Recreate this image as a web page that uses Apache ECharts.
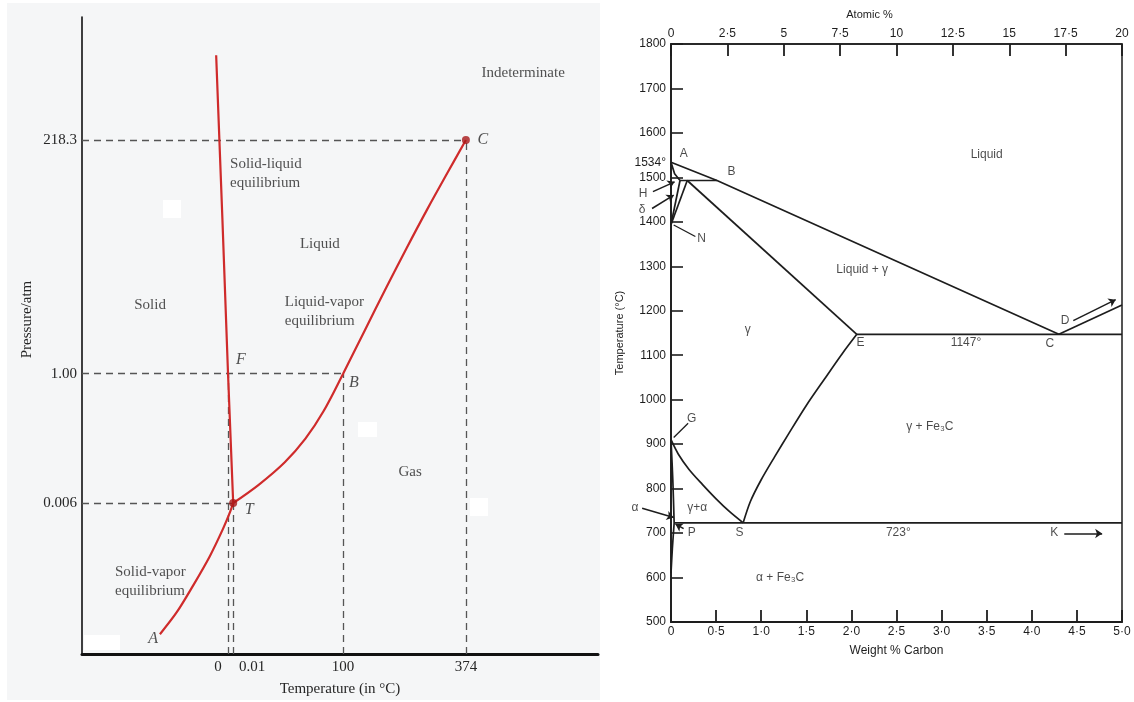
<!DOCTYPE html>
<html><head><meta charset="utf-8">
<script src="https://cdn.jsdelivr.net/npm/echarts@6/dist/echarts.min.js"></script>
<style>
html,body{margin:0;padding:0;background:#fff}
#bgL{position:absolute;left:7px;top:3px;width:593px;height:697px;background:#f5f6f7}
.wb{position:absolute;background:#fff}
#c{position:absolute;left:0;top:0;width:1134px;height:702px}
</style>
</head><body>
<div id="bgL"></div>
<div class="wb" style="left:163px;top:200px;width:18px;height:18px"></div>
<div class="wb" style="left:84px;top:635px;width:36px;height:15px"></div>
<div class="wb" style="left:358px;top:422px;width:19px;height:15px"></div>
<div class="wb" style="left:470px;top:498px;width:18px;height:18px"></div>
<div id="c"></div>
<script>
// ================= LEFT: water phase diagram (schematic, non-linear axes, units 0-100) =================
const waterXTickPos = [28.3, 29.3, 50.6, 74.4];
const waterXTickLabels = ['0', '0.01', '100', '374'];
const waterYTickPos = [23.7, 44.0, 80.7];
const waterYTickLabels = ['0.006', '1.00', '218.3'];

const fusionCurve = [[26.0, 94.0], [27.2, 68.5], [28.3, 44.0], [29.3, 23.7]];
const vaporCurve = [[29.3, 23.7], [34.3, 26.6], [39.3, 30.1], [43.3, 33.8], [46.8, 38.1], [50.6, 44.0],
                    [54.8, 50.8], [58.9, 57.4], [62.9, 63.7], [66.9, 69.8], [70.8, 75.5], [74.4, 80.7]];
const sublimationCurve = [[15.1, 3.1], [18.4, 6.6], [21.5, 10.7], [24.8, 15.4],
                          [27.3, 19.6], [28.7, 22.3], [29.3, 23.7]];
const pointF = [28.3, 44.0];
const pointT = [29.3, 23.7];
const pointB = [50.6, 44.0];
const pointC = [74.4, 80.7];

const waterRegionNames = ['Indeterminate', 'Liquid', 'Solid', 'Gas'];
const waterRegionAt = [[85.5, 91.2], [46.1, 64.3], [13.2, 54.7], [63.6, 28.5]];
const waterBlockNames = ['Solid-liquid\nequilibrium', 'Liquid-vapor\nequilibrium', 'Solid-vapor\nequilibrium'];
const waterBlockAt = [[28.7, 75.4], [39.3, 53.8], [6.4, 11.3]];
const waterLetterNames = ['F', 'B', 'C', 'T', 'A'];
const waterLetterAt = [[30.8, 46.2], [52.7, 42.6], [77.7, 80.7], [32.4, 22.6], [13.8, 2.4]];

// ================= RIGHT: Fe–C diagram (weight % C, °C) =================
const carbonTickLabels = ['0', '0·5', '1·0', '1·5', '2·0', '2·5', '3·0', '3·5', '4·0', '4·5', '5·0'];
const atomicTickLabels = ['0', '2·5', '5', '7·5', '10', '12·5', '15', '17·5', '20'];
const tempLabelValues = [500, 600, 700, 800, 900, 1000, 1100, 1200, 1300, 1400, 1500, 1600, 1700, 1800, 1534];
const specialTempLabel = { value: 1534, text: '1534°' };

const feLiquidus = [[0, 1534], [0.51, 1493], [4.3, 1147]];
const feDeltaSolidus = [[0, 1534], [0.04, 1508], [0.1, 1493]];
const fePeritectic = [[0.1, 1493], [0.51, 1493]];
const feDeltaSolvus = [[0.1, 1493], [0, 1394]];
const feGammaDelta = [[0.18, 1493], [0, 1394]];
const feSolidus = [[0.18, 1493], [2.06, 1147]];
const feEutectic = [[2.06, 1147], [5.0, 1147]];
const feCementiteLiquidus = [[4.3, 1147], [5.0, 1213]];
const feAcm = [[2.06, 1147], [1.9, 1104], [1.7, 1046], [1.5, 987], [1.3, 922], [1.15, 872],
               [1.0, 820], [0.88, 771], [0.8, 723]];
const feA3 = [[0, 910], [0.08, 878], [0.2, 843], [0.35, 809], [0.5, 777], [0.65, 748], [0.8, 723]];
const feEutectoid = [[0.035, 723], [5.0, 723]];
const feAlphaSolvusHigh = [[0, 910], [0.02, 820], [0.035, 723]];
const feAlphaSolvusLow = [[0.035, 723], [0.015, 665], [0, 610]];

const feArrows = [
  [[-0.20, 1468], [0.04, 1490]],  // H
  [[-0.21, 1430], [0.03, 1460]],  // δ
  [[-0.32, 756], [0.03, 735]],    // α
  [[0.14, 710], [0.05, 720]],     // P
  [[4.36, 699], [4.78, 699]],     // K
  [[4.46, 1178], [4.93, 1225]]    // D
];
const feLeaders = [
  [[0.03, 1393], [0.27, 1367]],   // N
  [[0.03, 915], [0.19, 947]]      // G
];
const feLabelNames = ['Liquid', 'Liquid + γ', 'γ', 'γ + Fe₃C', 'γ+α', 'α + Fe₃C', 'A', 'B', 'E', 'C', 'D',
                      '1147°', '723°', 'S', 'P', 'K', 'G', 'N', 'H', 'δ', 'α'];
const feLabelAt = [[3.5, 1550], [2.12, 1292], [0.85, 1157], [2.87, 939], [0.29, 756], [1.21, 599],
                   [0.14, 1553], [0.67, 1513], [2.1, 1128], [4.2, 1125], [4.37, 1177],
                   [3.27, 1128], [2.52, 700], [0.76, 700], [0.23, 700], [4.25, 700], [0.23, 958],
                   [0.34, 1363], [-0.31, 1464], [-0.32, 1427], [-0.4, 758]];

// ================= chart =================
const SERIF = '"Liberation Serif", "DejaVu Serif", serif';
const SANS = '"Liberation Sans", Arial, sans-serif';
const RED = '#cf2b2b';
const INK = '#1d1d1d';
const TXT = '#262626';

const guideSegs = [];
[pointC, pointB, pointT].forEach(p => guideSegs.push({ coords: [[0, p[1]], p] }));
[pointF, pointT, pointB, pointC].forEach(p => guideSegs.push({ coords: [[p[0], 0], p] }));

function labelData(names, at) { return names.map((n, i) => ({ name: n, value: at[i] })); }
function textSeries(xi, yi, names, at, lab) {
  return {
    type: 'scatter', xAxisIndex: xi, yAxisIndex: yi, clip: false, symbol: 'circle', symbolSize: 1,
    itemStyle: { color: 'rgba(0,0,0,0)' }, silent: true, z: 5,
    label: Object.assign({ show: true, position: 'inside', formatter: '{b}' }, lab),
    data: labelData(names, at)
  };
}
function feLine(data, smooth) {
  return { type: 'line', xAxisIndex: 1, yAxisIndex: 1, data: data, showSymbol: false, clip: false,
           smooth: smooth || false, lineStyle: { color: INK, width: 1.7 }, silent: true, z: 3 };
}
function redLine(data, smooth) {
  return { type: 'line', xAxisIndex: 0, yAxisIndex: 0, data: data, showSymbol: false, clip: false,
           smooth: smooth || false, lineStyle: { color: RED, width: 2.2 }, silent: true, z: 4 };
}

const chart = echarts.init(document.getElementById('c'), null, { renderer: 'canvas' });
chart.setOption({
  animation: false,
  backgroundColor: 'transparent',
  grid: [
    { left: 82, top: 17, width: 516, height: 638, show: false },
    { left: 671, top: 44, width: 451, height: 578, show: true, borderColor: INK, borderWidth: 1.5, backgroundColor: '#fff' }
  ],
  xAxis: [
    { gridIndex: 0, type: 'value', min: 0, max: 100,
      axisLine: { show: true, onZero: false, lineStyle: { color: '#111', width: 3 } },
      axisTick: { show: false }, splitLine: { show: false },
      axisLabel: { customValues: waterXTickPos, margin: 6, fontFamily: SERIF, fontSize: 15, color: TXT,
        formatter: v => {
          const i = waterXTickPos.indexOf(v); const t = waterXTickLabels[i];
          if (i === 0) return '{l|' + t + '}';
          if (i === 1) return '{r|' + t + '}';
          return t;
        },
        rich: { l: { padding: [0, 20, 0, 0], fontFamily: SERIF, fontSize: 15, color: TXT },
                r: { padding: [0, 0, 0, 38], fontFamily: SERIF, fontSize: 15, color: TXT } } },
      name: 'Temperature (in °C)', nameLocation: 'middle', nameGap: 28,
      nameTextStyle: { fontFamily: SERIF, fontSize: 15, color: TXT } },
    { gridIndex: 1, type: 'value', min: 0, max: 5, interval: 0.5, position: 'bottom',
      axisLine: { show: true, onZero: false, lineStyle: { color: INK, width: 2 } },
      axisTick: { show: true, inside: true, length: 12, lineStyle: { color: INK, width: 1.8 } },
      splitLine: { show: false },
      axisLabel: { margin: 4, fontFamily: SANS, fontSize: 12, color: INK,
        formatter: v => carbonTickLabels[Math.round(v / 0.5)] },
      name: 'Weight % Carbon', nameLocation: 'middle', nameGap: 23,
      nameTextStyle: { fontFamily: SANS, fontSize: 12, color: INK } },
    { gridIndex: 1, type: 'value', min: 0, max: 20, interval: 2.5, position: 'top',
      axisLine: { show: true, onZero: false, lineStyle: { color: INK, width: 1.5 } },
      axisTick: { show: true, inside: true, length: 12, lineStyle: { color: INK, width: 1.8 } },
      splitLine: { show: false },
      axisLabel: { margin: 4, fontFamily: SANS, fontSize: 12, color: INK,
        formatter: v => atomicTickLabels[Math.round(v / 2.5)] },
      name: 'Atomic %', nameLocation: 'middle', nameGap: 24,
      nameTextStyle: { fontFamily: SANS, fontSize: 11, color: INK, padding: [0, 54, 0, 0] } }
  ],
  yAxis: [
    { gridIndex: 0, type: 'value', min: 0, max: 100,
      axisLine: { show: true, onZero: false, lineStyle: { color: '#111', width: 1.6 } },
      axisTick: { show: false }, splitLine: { show: false },
      axisLabel: { customValues: waterYTickPos, margin: 5, fontFamily: SERIF, fontSize: 15, color: TXT,
        formatter: v => waterYTickLabels[waterYTickPos.indexOf(v)] },
      name: 'Pressure/atm', nameLocation: 'middle', nameGap: 47,
      nameTextStyle: { fontFamily: SERIF, fontSize: 15, color: TXT, padding: [0, 0, 0, 32] } },
    { gridIndex: 1, type: 'value', min: 500, max: 1800, interval: 100,
      axisLine: { show: true, onZero: false, lineStyle: { color: INK, width: 1.8 } },
      axisTick: { show: true, inside: true, length: 12, lineStyle: { color: INK, width: 1.6 } },
      splitLine: { show: false },
      axisLabel: { customValues: tempLabelValues, margin: 5, fontFamily: SANS, fontSize: 12, color: INK,
        formatter: v => v === specialTempLabel.value ? specialTempLabel.text : String(v) },
      name: 'Temperature (°C)', nameLocation: 'middle', nameGap: 46,
      nameTextStyle: { fontFamily: SANS, fontSize: 11, color: INK } }
  ],
  series: [
    // ---- left
    { type: 'lines', coordinateSystem: 'cartesian2d', xAxisIndex: 0, yAxisIndex: 0, clip: false, silent: true, z: 2,
      lineStyle: { color: '#555', width: 1.3, type: [7, 5], opacity: 1 }, data: guideSegs },
    redLine(fusionCurve, false),
    redLine(vaporCurve, 0.35),
    redLine(sublimationCurve, 0.3),
    { type: 'scatter', xAxisIndex: 0, yAxisIndex: 0, symbolSize: 8, clip: false, silent: true, z: 6,
      itemStyle: { color: '#a81818' }, data: [pointC, pointT] },
    textSeries(0, 0, waterRegionNames, waterRegionAt, { fontFamily: SERIF, fontSize: 15, color: TXT }),
    textSeries(0, 0, waterBlockNames, waterBlockAt, { fontFamily: SERIF, fontSize: 15, color: TXT, align: 'left', lineHeight: 19 }),
    textSeries(0, 0, waterLetterNames, waterLetterAt, { fontFamily: SERIF, fontSize: 16, color: TXT, fontStyle: 'italic' }),
    // ---- right
    feLine(feLiquidus), feLine(feDeltaSolidus), feLine(fePeritectic), feLine(feDeltaSolvus), feLine(feGammaDelta),
    feLine(feSolidus), feLine(feEutectic), feLine(feCementiteLiquidus), feLine(feAcm, 0.3), feLine(feA3, 0.3),
    feLine(feEutectoid), feLine(feAlphaSolvusHigh, 0.3), feLine(feAlphaSolvusLow, 0.3),
    { type: 'lines', coordinateSystem: 'cartesian2d', xAxisIndex: 1, yAxisIndex: 1, clip: false, silent: true, z: 3,
      symbol: ['none', 'arrow'], symbolSize: 7,
      lineStyle: { color: INK, width: 1.5, opacity: 1 }, data: feArrows.map(c => ({ coords: c })) },
    { type: 'lines', coordinateSystem: 'cartesian2d', xAxisIndex: 1, yAxisIndex: 1, clip: false, silent: true, z: 3,
      lineStyle: { color: INK, width: 1.3, opacity: 1 }, data: feLeaders.map(c => ({ coords: c })) },
    textSeries(1, 1, feLabelNames, feLabelAt, { fontFamily: SANS, fontSize: 12, color: INK })
  ]
});
</script>
</body></html>
